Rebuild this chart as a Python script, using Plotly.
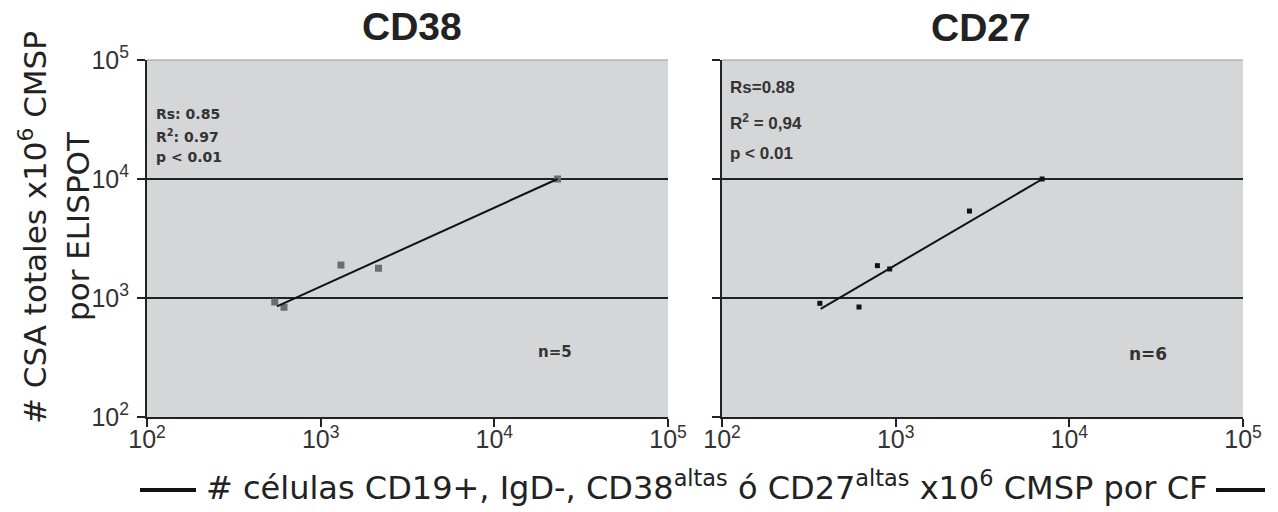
import plotly.graph_objects as go

# CD38 panel data
cd38_x = [544, 615, 1309, 2153, 23100]
cd38_y = [925, 836, 1892, 1778, 10000]
cd38_trend_x = [560, 23100]
cd38_trend_y = [850, 10000]

# CD27 panel data
cd27_x = [366, 615, 785, 924, 2660, 6970]
cd27_y = [902, 840, 1870, 1754, 5380, 10000]
cd27_trend_x = [370, 7000]
cd27_trend_y = [810, 10000]

tick_vals = [100, 1000, 10000, 100000]
tick_text = ["10<sup>2</sup>", "10<sup>3</sup>", "10<sup>4</sup>", "10<sup>5</sup>"]

W, H = 1278, 512
FONT = "Liberation Sans"
WIDE = "DejaVu Sans"
NARROW = "Liberation Sans Narrow, Liberation Sans"

fig = go.Figure()
fig.add_trace(go.Scatter(x=cd38_x, y=cd38_y, mode="markers",
                         marker=dict(symbol="square", size=7, color="#6e6e6e"),
                         xaxis="x", yaxis="y", showlegend=False))
fig.add_trace(go.Scatter(x=cd38_trend_x, y=cd38_trend_y, mode="lines",
                         line=dict(color="#111111", width=2),
                         xaxis="x", yaxis="y", showlegend=False))
fig.add_trace(go.Scatter(x=cd27_x, y=cd27_y, mode="markers",
                         marker=dict(symbol="square", size=5, color="#111111"),
                         xaxis="x2", yaxis="y2", showlegend=False))
fig.add_trace(go.Scatter(x=cd27_trend_x, y=cd27_trend_y, mode="lines",
                         line=dict(color="#111111", width=2),
                         xaxis="x2", yaxis="y2", showlegend=False))

y0d, y1d = (H - 417) / H, (H - 60) / H

def xax(domain, anchor):
    return dict(type="log", domain=domain, range=[2, 5], anchor=anchor,
                tickmode="array", tickvals=tick_vals, ticktext=tick_text,
                ticks="outside", ticklen=8, tickcolor="#222", tickwidth=1.5,
                showline=True, linecolor="#222", linewidth=2,
                showgrid=False, zeroline=False, automargin=False,
                ticklabelstandoff=-9,
                tickfont=dict(family=NARROW, size=25, color="#333"))

def yax(anchor, labels):
    return dict(type="log", domain=[y0d, y1d], range=[2, 5], anchor=anchor,
                tickmode="array", tickvals=tick_vals, ticktext=tick_text,
                showticklabels=labels, automargin=False,
                ticks="outside", ticklen=8, tickcolor="#222", tickwidth=1.5,
                showline=True, linecolor="#222", linewidth=2,
                showgrid=True, gridcolor="#222", gridwidth=1.5, zeroline=False,
                ticklabelstandoff=3,
                tickfont=dict(family=NARROW, size=25, color="#333"))

fig.update_layout(
    template="none",
    width=W, height=H,
    margin=dict(l=0, r=0, t=0, b=0, pad=0, autoexpand=False),
    paper_bgcolor="white",
    plot_bgcolor="#d5d6d8",
    showlegend=False,
    xaxis=xax([147 / W, 668 / W], "y"),
    yaxis=yax("x", True),
    xaxis2=xax([722 / W, 1243 / W], "y2"),
    yaxis2=yax("x2", False),
    font=dict(family=FONT, color="#222"),
)

def px(x, y):
    return x / W, 1 - y / H

def note(txt, x, y, family, size, color="#333", xanchor="center", yanchor="middle", angle=0):
    xx, yy = px(x, y)
    return dict(text=txt, x=xx, y=yy, xref="paper", yref="paper", showarrow=False,
                xanchor=xanchor, yanchor=yanchor, textangle=angle,
                font=dict(family=family, size=size, color=color))

ann = []
# panel titles
ann.append(note("<b>CD38</b>", 412, 26, FONT, 39, "#222"))
ann.append(note("<b>CD27</b>", 981, 27, FONT, 39, "#222"))
# stats left
for txt, yv in [("<b>Rs: 0.85</b>", 114), ("<b>R<sup>2</sup>: 0.97</b>", 136), ("<b>p < 0.01</b>", 157)]:
    ann.append(note(txt, 154, yv, WIDE, 14, xanchor="left"))
# stats right
for txt, yv in [("<b>Rs=0.88</b>", 87), ("<b>R<sup>2</sup> = 0,94</b>", 122), ("<b>p < 0.01</b>", 153)]:
    ann.append(note(txt, 728, yv, FONT, 17, xanchor="left"))
ann.append(note("<b>n=5</b>", 555, 352, WIDE, 15))
ann.append(note("<b>n=6</b>", 1148, 354, WIDE, 17))
# y title
ann.append(note("# CSA totales x10<sup>6</sup> CMSP", 33, 228, WIDE, 31, "#222", angle=-90))
ann.append(note("por ELISPOT", 78, 226, WIDE, 31, "#222", angle=-90))
# x title
ann.append(note("# células CD19+, IgD-, CD38<sup>altas</sup> ó CD27<sup>altas</sup> x10<sup>6</sup> CMSP por CF",
                706, 509, WIDE, 32, "#222", yanchor="bottom"))
fig.update_layout(annotations=ann)

ly = 1 - 490 / H
shapes = [
    dict(type="line", xref="paper", yref="paper", x0=140 / W, x1=196 / W,
         y0=ly, y1=ly, line=dict(color="#111", width=4)),
    dict(type="line", xref="paper", yref="paper", x0=1216 / W, x1=1265 / W,
         y0=ly, y1=ly, line=dict(color="#111", width=4)),
    dict(type="line", xref="x domain", yref="y domain", x0=0, x1=1, y0=1, y1=1,
         line=dict(color="#999", width=1)),
    dict(type="line", xref="x2 domain", yref="y2 domain", x0=0, x1=1, y0=1, y1=1,
         line=dict(color="#999", width=1)),
]
fig.update_layout(shapes=shapes)

fig.write_html("out.html")
